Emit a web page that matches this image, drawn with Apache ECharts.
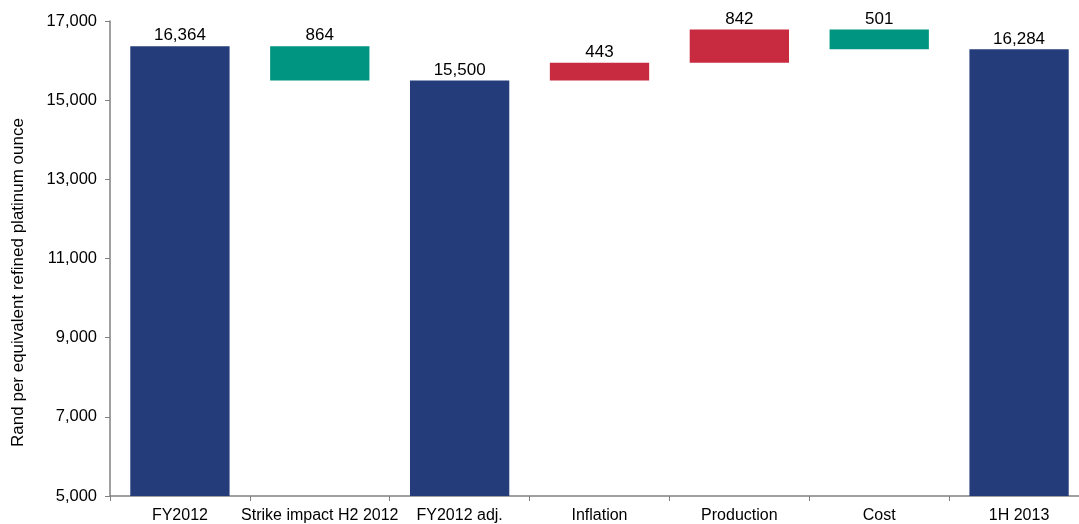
<!DOCTYPE html>
<html><head><meta charset="utf-8">
<script src="https://cdn.jsdelivr.net/npm/echarts@6/dist/echarts.min.js"></script>
<style>html,body{margin:0;padding:0;background:#fff;overflow:hidden}#c{width:1090px;height:524px}</style>
</head><body><div id="c"></div>
<script>
var categories = ['FY2012', 'Strike impact H2 2012', 'FY2012 adj.', 'Inflation', 'Production', 'Cost', '1H 2013'];
// 'total' bars start at the axis minimum; 'down'/'up' are changes
var kinds = ['total', 'down', 'total', 'up', 'up', 'down', 'total'];
var values = [16364, 864, 15500, 443, 842, 501, 16284];
var yTicks = { min: 5000, max: 17000, interval: 2000 };

var colors = { total: '#243C7A', down: '#009580', up: '#C82A40' };

var base = [], visible = [];
var running = 0;
for (var i = 0; i < values.length; i++) {
  var k = kinds[i], v = values[i];
  if (k === 'total') { running = v; base.push('-'); visible.push({ value: v, itemStyle: { color: colors.total } }); }
  else if (k === 'down') { running -= v; base.push(running); visible.push({ value: v, itemStyle: { color: colors.down } }); }
  else { base.push(running); running += v; visible.push({ value: v, itemStyle: { color: colors.up } }); }
}

var chart = echarts.init(document.getElementById('c'), null, { renderer: 'canvas' });
var font = 'Liberation Sans, Arial, sans-serif';
chart.setOption({
  animation: false,
  textStyle: { fontFamily: font },
  grid: { left: 110, right: 1, top: 21, bottom: 28, containLabel: false },
  xAxis: {
    type: 'category', data: categories,
    axisLine: { lineStyle: { color: '#808080', width: 1.5 } },
    axisTick: { show: true, length: 5, lineStyle: { color: '#808080' } },
    axisLabel: { color: '#000', fontSize: 16, margin: 12, fontFamily: font, interval: 0 }
  },
  yAxis: {
    type: 'value', min: yTicks.min, max: yTicks.max, interval: yTicks.interval,
    name: 'Rand per equivalent refined platinum ounce', nameLocation: 'middle', nameGap: 83,
    nameTextStyle: { color: '#000', fontSize: 17, fontFamily: font, padding: [0, 48, 0, 0] },
    axisLine: { show: true, lineStyle: { color: '#808080', width: 1.5 } },
    axisTick: { show: true, length: 5, lineStyle: { color: '#808080' } },
    splitLine: { show: false },
    axisLabel: { color: '#000', fontSize: 16.5, margin: 13, fontFamily: font,
      formatter: function (v) { return v.toLocaleString('en-US'); } }
  },
  series: [
    { type: 'bar', stack: 'w', data: base, itemStyle: { color: 'transparent' }, barCategoryGap: '29%', silent: true },
    { type: 'bar', stack: 'w', data: visible, barCategoryGap: '29%',
      label: { show: true, position: 'top', distance: 2, color: '#000', fontSize: 17, fontFamily: font,
        formatter: function (p) { return p.value.toLocaleString('en-US'); } } }
  ]
});
</script></body></html>
